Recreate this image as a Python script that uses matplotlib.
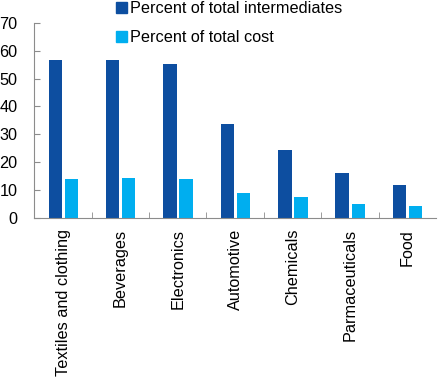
import numpy as np
import matplotlib.pyplot as plt
from matplotlib.patches import Patch

plt.rcParams['font.family'] = ['Liberation Sans', 'DejaVu Sans']

categories = ["Textiles and clothing", "Beverages", "Electronics", "Automotive",
              "Chemicals", "Parmaceuticals", "Food"]
intermediates = [56.6, 56.7, 55.3, 33.7, 24.4, 16.2, 11.8]
total_cost = [14.0, 14.4, 14.0, 9.0, 7.5, 5.0, 4.3]

dark = "#0D4EA0"
light = "#00AEEF"
grey = "#8C8C8C"
fs = 11.7

fig = plt.figure(figsize=(4.4, 3.82), dpi=100)
ax = fig.add_axes([0.078, 0.43, 0.913, 0.51])

x = np.arange(len(categories))
w = 0.235
ax.bar(x - 0.135, intermediates, width=w, color=dark)
ax.bar(x + 0.145, total_cost, width=w, color=light)

ax.set_xlim(-0.5, len(categories) - 0.5)
ax.set_ylim(0, 70)
ax.set_yticks(range(0, 71, 10))

ax.set_xticks(x)
ax.set_xticklabels(categories, rotation=90, fontsize=fs)
ax.set_xticks(np.arange(0.5, len(categories) - 0.5), minor=True)
ax.tick_params(axis='x', which='major', length=0, pad=8)
ax.tick_params(axis='x', which='minor', direction='in', length=4, color=grey)
ax.tick_params(axis='y', direction='in', length=4, color=grey, labelsize=fs, pad=12)

for s in ['top', 'right']:
    ax.spines[s].set_visible(False)
for s in ['left', 'bottom']:
    ax.spines[s].set_color(grey)

handles = [Patch(color=dark, label="Percent of total intermediates"),
           Patch(color=light, label="Percent of total cost")]
fig.legend(handles=handles, loc='upper left', bbox_to_anchor=(0.23, 1.035),
           frameon=False, fontsize=fs, handlelength=0.7, handleheight=0.7,
           handletextpad=0.2, labelspacing=0.85)

fig.savefig("out.png", dpi=100)
